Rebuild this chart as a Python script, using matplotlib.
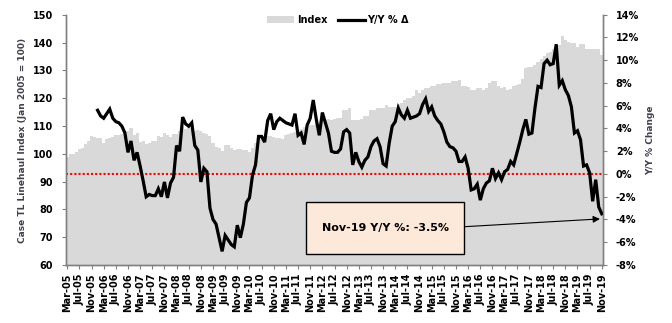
import numpy as np
import matplotlib
matplotlib.use('Agg')
import matplotlib.pyplot as plt
from matplotlib.lines import Line2D
from matplotlib.patches import Patch, Rectangle

# Monthly index (Mar-05 .. Nov-19), Jan 2005 = 100
index_values = [
    98.9, 99.9, 99.9, 100.6, 101.8, 102.1, 103.5, 104.6, 106.3, 106.1,
    105.7, 105.5, 103.9, 105.4, 105.7, 105.9, 106.6, 106.8, 107.1, 108.0,
    108.1, 109.2, 106.8, 107.4, 104.4, 104.6, 103.6, 103.9, 104.5, 104.6,
    106.3, 106.1, 107.3, 106.9, 106.1, 107.1, 107.1, 108.3, 109.5, 108.9,
    109.7, 109.1, 108.1, 108.5,
    108.3, 107.3, 107.0, 106.3, 103.7, 102.5, 102.2, 101.0, 103.1, 103.1,
    102.2, 101.5, 101.8, 101.8, 101.5, 101.2, 100.6, 102.2, 104.0, 106.0,
    106.5, 106.5, 106.3, 106.3, 106.0, 105.8, 105.8, 105.3, 106.8, 107.0,
    107.5, 108.0, 108.6, 108.8, 109.7, 109.7, 110.3, 110.5, 111.0, 111.0,
    112.0, 112.2, 112.5, 112.1, 112.4, 112.7, 112.7, 115.7, 115.7, 116.5,
    112.1, 112.3, 112.3, 112.5, 113.5, 113.5, 115.7, 115.7, 116.6, 116.6,
    116.6, 117.4, 116.7, 116.7, 116.7, 118.0, 118.3, 119.2, 120.0, 120.2,
    120.7, 122.8, 121.7, 123.1, 123.5, 123.8, 124.3, 124.3, 125.0, 125.0,
    125.5, 125.5, 125.3, 126.0, 126.0, 126.4, 124.5,
    124.3, 124.0, 123.1, 123.1, 123.5, 123.5, 123.1, 123.8, 125.4, 126.1,
    126.0, 124.3, 123.5, 124.1, 123.1, 123.3, 124.3, 124.6, 125.0, 126.7,
    131.0, 131.1, 131.3, 132.0, 133.0, 134.0, 135.0, 136.4, 136.5, 137.5,
    139.4, 139.0, 142.3, 141.0, 140.2, 140.0, 139.7, 138.5, 139.4, 139.3,
    137.5, 137.6, 137.7, 137.8, 137.8, 135.5,
]

# Y/Y % change (available from Jan-06)
yoy_start = 10
yoy_pct = [
    5.6, 5.1, 4.9, 5.3, 5.7, 4.9, 4.6, 4.5, 4.2, 3.6,
    1.9, 2.9, 1.2, 1.9, 0.7, -0.6, -2.0, -1.8, -1.9, -1.9,
    -1.3, -2.0, -0.7, -2.1, -0.8, -0.3, 2.5, 2.0, 5.0, 4.4,
    4.2, 4.5, 2.5, 2.1, -0.7, 0.5, 0.2, -3.0, -4.0, -4.4,
    -5.6, -6.8, -5.4, -5.8, -6.2, -6.4, -4.5, -5.6, -4.4, -2.5,
    -2.1, -0.1, 0.8, 3.3, 3.3, 2.8, 4.7, 5.3, 3.9, 4.6,
    4.9, 4.7, 4.5, 4.4, 4.3, 5.3, 3.4, 3.6, 2.6, 4.3,
    4.9, 6.5, 4.8, 3.4, 5.4, 4.5, 3.6, 2.0, 1.9, 1.9,
    2.2, 3.7, 3.9, 3.6, 0.8, 1.9, 1.1, 0.6, 1.2, 1.5,
    2.4, 2.9, 3.1, 2.4, 0.9, 0.7, 2.7, 4.2, 4.6, 5.8,
    5.2, 4.9, 5.6, 4.9, 5.0, 5.1, 5.3, 6.1, 6.6, 5.5,
    5.9, 5.1, 4.7, 4.4, 3.7, 2.8, 2.4, 2.3, 2.0, 1.1,
    1.1, 1.5, 0.5, -1.4, -1.3, -0.9, -2.3, -1.3, -0.8, -0.6,
    0.5, -0.4, 0.1, -0.5, 0.2, 0.4, 1.1, 0.8, 1.8, 2.8,
    3.9, 4.8, 3.5, 3.6, 5.8, 7.7, 7.6, 9.7, 10.0, 9.6,
    9.7, 11.4, 7.8, 8.2, 7.4, 6.9, 5.9, 3.6, 3.8, 3.0,
    0.7, 0.8, 0.1, -2.4, -0.5, -2.9, -3.5,
]

tick_labels = [
    'Mar-05', 'Jul-05', 'Nov-05', 'Mar-06', 'Jul-06', 'Nov-06',
    'Mar-07', 'Jul-07', 'Nov-07', 'Mar-08', 'Jul-08', 'Nov-08',
    'Mar-09', 'Jul-09', 'Nov-09', 'Mar-10', 'Jul-10', 'Nov-10',
    'Mar-11', 'Jul-11', 'Nov-11', 'Mar-12', 'Jul-12', 'Nov-12',
    'Mar-13', 'Jul-13', 'Nov-13', 'Mar-14', 'Jul-14', 'Nov-14',
    'Mar-15', 'Jul-15', 'Nov-15', 'Mar-16', 'Jul-16', 'Nov-16',
    'Mar-17', 'Jul-17', 'Nov-17', 'Mar-18', 'Jul-18', 'Nov-18',
    'Mar-19', 'Jul-19', 'Nov-19',
]
annotation_text = 'Nov-19 Y/Y %: -3.5%'

plt.rcParams['font.family'] = ['DejaVu Sans']
plt.rcParams['font.weight'] = 'bold'

n = len(index_values)
x = np.arange(n)
yoy_x = np.arange(yoy_start, yoy_start + len(yoy_pct))

fig = plt.figure(figsize=(6.72, 3.23), dpi=100)
ax = fig.add_axes([65.7 / 672, 1 - 265 / 323, 537.6 / 672, 250.3 / 323])
ax.stairs(index_values, edges=np.arange(n + 1) - 0.5, baseline=60, fill=True,
          color='#D9D9D9', linewidth=0)
ax.set_xlim(-0.5, n - 0.5)
ax.set_ylim(60, 150)
ax.set_yticks(np.arange(60, 151, 10))
ax.set_xticks(x[::4])
ax.set_xticklabels(tick_labels, rotation=90)

spine_c = '#808080'
for s in ['top']:
    ax.spines[s].set_visible(False)
for s in ['left', 'right', 'bottom']:
    ax.spines[s].set_color(spine_c)
    ax.spines[s].set_linewidth(1.0)
ax.tick_params(axis='y', direction='out', length=3, color=spine_c, labelsize=7, pad=6)
ax.tick_params(axis='x', direction='out', length=3, color=spine_c, labelsize=7, pad=3)

ax2 = ax.twinx()
ax2.set_ylim(-8, 14)
ax2.set_yticks(np.arange(-8, 15, 2))
ax2.set_yticklabels([f'{v}%' for v in range(-8, 15, 2)])
ax2.spines['top'].set_visible(False)
for s in ['left', 'right', 'bottom']:
    ax2.spines[s].set_color(spine_c)
    ax2.spines[s].set_linewidth(1.0)
ax2.tick_params(axis='y', direction='out', length=3, color=spine_c, labelsize=7, pad=6)

ax2.axhline(0, color='#FF0000', linestyle=(0, (1, 1)), linewidth=1.5, zorder=2)
ax2.plot(yoy_x, yoy_pct, color='black', linewidth=2.3, zorder=3, solid_joinstyle='miter')

# annotation box + arrow
ax2.add_patch(Rectangle((0.447, 0.044), 0.294, 0.208, transform=ax2.transAxes,
                        facecolor='#FDE9D9', edgecolor='black', linewidth=1.0, zorder=5))
ax2.text(0.594, 0.148, annotation_text, transform=ax2.transAxes, ha='center', va='center',
         fontsize=8, fontweight='bold', zorder=6)
ax2.annotate('', xy=(175.4, -3.95), xytext=(131.0, -4.63),
             arrowprops=dict(arrowstyle='-|>', color='black', lw=0.8,
                             mutation_scale=10, shrinkA=0, shrinkB=0), zorder=6)

handles = [Patch(facecolor='#D9D9D9', edgecolor='none'),
           Line2D([0], [0], color='black', linewidth=2.3)]
fig.legend(handles, ['Index', 'Y/Y % Δ'], loc='center', bbox_to_anchor=(0.503, 0.938),
           ncol=2, frameon=False, fontsize=7, handlelength=2.8, handletextpad=0.25,
           columnspacing=1.1, borderaxespad=0, borderpad=0)

fig.text(23 / 672, 1 - 140 / 323, 'Case TL Linehaul Index (Jan 2005 = 100)', rotation=90,
         ha='center', va='center', fontsize=6.5, color='#404050', fontweight='bold')
fig.text(651 / 672, 1 - 140 / 323, 'Y/Y % Change', rotation=90,
         ha='center', va='center', fontsize=6.5, color='#404050', fontweight='bold')

fig.savefig('out.png', dpi=100)
